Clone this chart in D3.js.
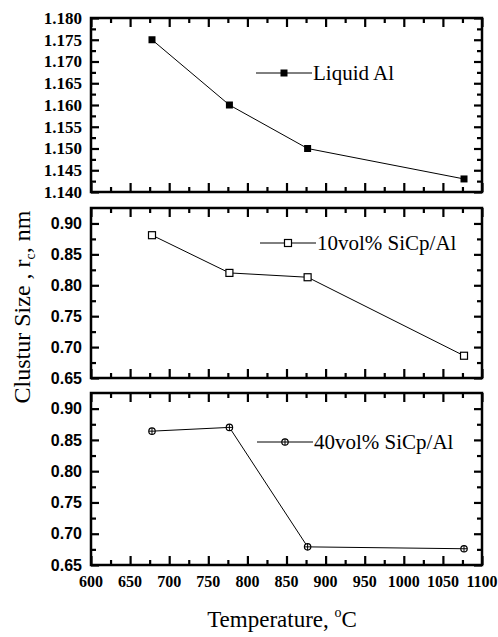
<!DOCTYPE html>
<html>
<head>
<meta charset="utf-8">
<script src="https://cdn.jsdelivr.net/npm/d3@7"></script>
<style>
  body { margin: 0; background: #fff; }
  svg { display: block; }
  .frame { fill: none; stroke: #000; stroke-width: 2.5; }
  .axis path { display: none; }
  .axis line { stroke: #000; stroke-width: 2.2; }
</style>
</head>
<body>
<div id="chart"></div>
<script>
"use strict";

var SERIF = "'Liberation Serif', 'DejaVu Serif', 'Times New Roman', serif";
var SANS = "'Liberation Sans', Arial, sans-serif";

// temperatures (deg C) the clusters were measured at
var temps = [678, 777, 877, 1077];

var liquidAl = [1.175, 1.160, 1.150, 1.143];
var sic10 = [0.881, 0.820, 0.813, 0.686];
var sic40 = [0.864, 0.870, 0.679, 0.676];

var seriesNames = ["Liquid Al", "10vol% SiCp/Al", "40vol% SiCp/Al"];

var xTickLabels = [600, 650, 700, 750, 800, 850, 900, 950, 1000, 1050, 1100];
var topYTicks = [1.140, 1.145, 1.150, 1.155, 1.160, 1.165, 1.170, 1.175, 1.180];
var lowYTicks = [0.65, 0.70, 0.75, 0.80, 0.85, 0.90];

var W = 498, H = 637;
var left = 91, right = 482;

var svg = d3.select("#chart")
    .append("svg")
    .attr("width", W)
    .attr("height", H);

var x = d3.scaleLinear()
    .domain([600, 1100])
    .range([left, right]);

var xMinor = d3.range(625, 1100, 50);

var panels = [
    { name: seriesNames[0], vals: liquidAl, top: 18, bottom: 192, dom: [1.140, 1.180],
      ticks: topYTicks, minor: d3.range(1.1425, 1.180, 0.005), fmt: d3.format(".3f"),
      font: SERIF, marker: "filled", legY: 73, legX: 256 },
    { name: seriesNames[1], vals: sic10, top: 208, bottom: 378, dom: [0.65, 0.925],
      ticks: lowYTicks, minor: d3.range(0.675, 0.925, 0.05), fmt: d3.format(".2f"),
      font: SANS, marker: "open", legY: 243, legX: 260 },
    { name: seriesNames[2], vals: sic40, top: 393, bottom: 565, dom: [0.65, 0.925],
      ticks: lowYTicks, minor: d3.range(0.675, 0.925, 0.05), fmt: d3.format(".2f"),
      font: SANS, marker: "cross", legY: 442, legX: 257 }
];

function drawMarker(g, kind, cx, cy) {
    if (kind == "filled") {
        g.append("rect").attr("x", cx - 3.5).attr("y", cy - 3.5)
            .attr("width", 7).attr("height", 7).attr("fill", "#000");
    } else if (kind == "open") {
        g.append("rect").attr("x", cx - 3.5).attr("y", cy - 3.5)
            .attr("width", 7).attr("height", 7)
            .attr("fill", "#fff").attr("stroke", "#000").attr("stroke-width", 1.2);
    } else {
        g.append("circle").attr("cx", cx).attr("cy", cy).attr("r", 3.2)
            .attr("fill", "#fff").attr("stroke", "#000").attr("stroke-width", 1.2);
        g.append("line").attr("x1", cx - 3.2).attr("x2", cx + 3.2).attr("y1", cy).attr("y2", cy)
            .attr("stroke", "#000").attr("stroke-width", 1);
        g.append("line").attr("x1", cx).attr("x2", cx).attr("y1", cy - 3.2).attr("y2", cy + 3.2)
            .attr("stroke", "#000").attr("stroke-width", 1);
    }
}

panels.forEach(function(p, idx) {
    var y = d3.scaleLinear().domain(p.dom).range([p.bottom, p.top]);
    var g = svg.append("g");

    // inward ticks on all four sides
    g.append("g").attr("class", "axis")
        .attr("transform", "translate(" + left + ",0)")
        .call(d3.axisLeft(y).tickValues(p.ticks).tickSize(-8).tickFormat(""));
    g.append("g").attr("class", "axis")
        .attr("transform", "translate(" + left + ",0)")
        .call(d3.axisLeft(y).tickValues(p.minor).tickSize(-5).tickFormat(""));
    g.append("g").attr("class", "axis")
        .attr("transform", "translate(" + right + ",0)")
        .call(d3.axisRight(y).tickValues(p.ticks).tickSize(-8).tickFormat(""));
    g.append("g").attr("class", "axis")
        .attr("transform", "translate(" + right + ",0)")
        .call(d3.axisRight(y).tickValues(p.minor).tickSize(-5).tickFormat(""));

    g.append("g").attr("class", "axis")
        .attr("transform", "translate(0," + p.bottom + ")")
        .call(d3.axisBottom(x).tickValues(xTickLabels).tickSize(-9).tickFormat(""));
    g.append("g").attr("class", "axis")
        .attr("transform", "translate(0," + p.bottom + ")")
        .call(d3.axisBottom(x).tickValues(xMinor).tickSize(-5).tickFormat(""));
    g.append("g").attr("class", "axis")
        .attr("transform", "translate(0," + p.top + ")")
        .call(d3.axisTop(x).tickValues(xTickLabels).tickSize(-9).tickFormat(""));
    g.append("g").attr("class", "axis")
        .attr("transform", "translate(0," + p.top + ")")
        .call(d3.axisTop(x).tickValues(xMinor).tickSize(-5).tickFormat(""));

    g.append("rect").attr("class", "frame")
        .attr("x", left).attr("y", p.top)
        .attr("width", right - left).attr("height", p.bottom - p.top);

    // y tick labels
    g.selectAll(".ylab")
        .data(p.ticks)
        .enter()
        .append("text")
        .attr("font-family", p.font)
        .attr("x", left - 9)
        .attr("y", d => y(d))
        .attr("dy", "0.35em")
        .attr("text-anchor", "end")
        .attr("font-size", p.font == SERIF ? 17 : 16)
        .attr("font-weight", "bold")
        .text(d => p.fmt(d));

    var line = d3.line()
        .x((d, i) => x(temps[i]))
        .y(d => y(d));

    g.append("path")
        .datum(p.vals)
        .attr("d", line)
        .attr("fill", "none")
        .attr("stroke", "#000")
        .attr("stroke-width", 1);

    p.vals.forEach(function(v, i) {
        drawMarker(g, p.marker, x(temps[i]), y(v));
    });

    // legend
    var lg = g.append("g");
    lg.append("line")
        .attr("x1", p.legX).attr("x2", p.legX + 56)
        .attr("y1", p.legY).attr("y2", p.legY)
        .attr("stroke", "#000").attr("stroke-width", 1);
    drawMarker(lg, p.marker, p.legX + 28, p.legY);
    lg.append("text")
        .attr("font-family", SERIF)
        .attr("x", p.legX + 57)
        .attr("y", p.legY)
        .attr("dy", "0.35em")
        .attr("font-size", 21)
        .text(p.name);

    if (idx == panels.length - 1) {
        g.selectAll(".xlab")
            .data(xTickLabels)
            .enter()
            .append("text")
            .attr("font-family", SERIF)
            .attr("x", d => x(d))
            .attr("y", p.bottom + 22)
            .attr("text-anchor", "middle")
            .attr("font-size", 16)
            .attr("font-weight", "bold")
            .text(d => d);
    }
});

// axis titles
var yt = svg.append("text")
    .attr("font-family", SERIF)
    .attr("transform", "translate(30,307) rotate(-90)")
    .attr("text-anchor", "middle")
    .attr("font-size", 24);
yt.append("tspan").text("Clustur Size , r");
yt.append("tspan").attr("font-size", 14).attr("dy", 5).text("c");
yt.append("tspan").attr("dy", -5).text(",  nm");

var xt = svg.append("text")
    .attr("font-family", SERIF)
    .attr("x", 282)
    .attr("y", 627)
    .attr("text-anchor", "middle")
    .attr("font-size", 23);
xt.append("tspan").text("Temperature, ");
xt.append("tspan").attr("font-size", 14).attr("dy", -10).text("o");
xt.append("tspan").attr("dy", 10).text("C");
</script>
</body>
</html>
